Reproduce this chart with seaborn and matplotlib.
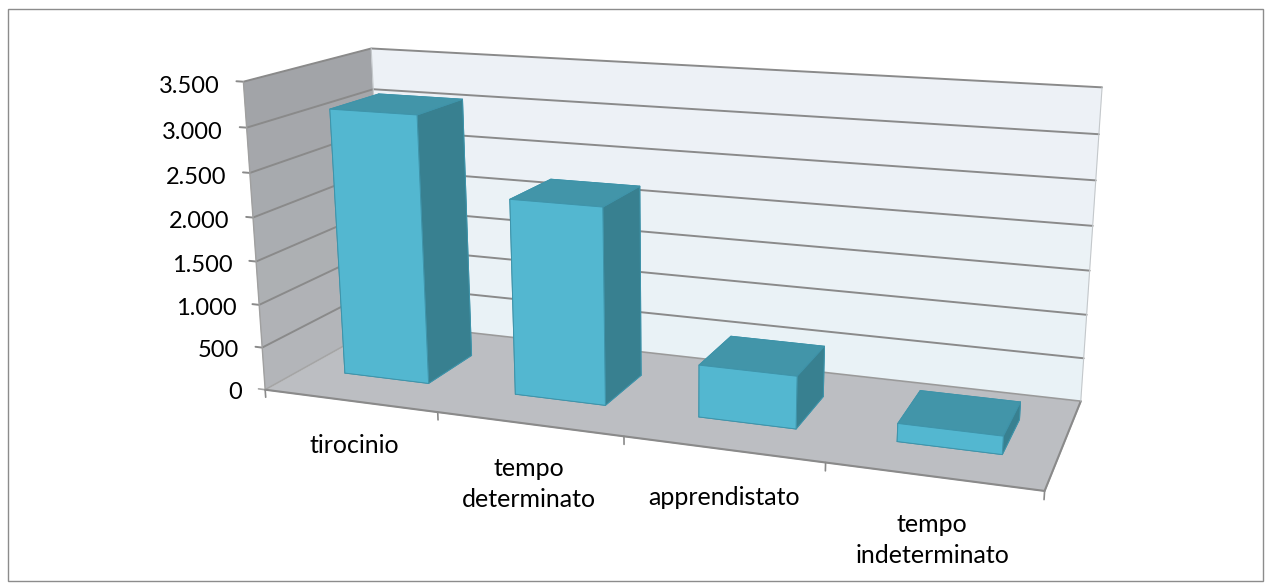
import numpy as np
import matplotlib
matplotlib.use("Agg")
import matplotlib.pyplot as plt
import seaborn as sns
from matplotlib.patches import Rectangle
from mpl_toolkits.mplot3d import proj3d
from mpl_toolkits.mplot3d.art3d import Poly3DCollection

categories = ["tirocinio", "tempo\ndeterminato", "apprendistato", "tempo\nindeterminato"]
values = [3100, 2240, 590, 200]
y_ticks = [0, 500, 1000, 1500, 2000, 2500, 3000, 3500]
y_labels = ["0", "500", "1.000", "1.500", "2.000", "2.500", "3.000", "3.500"]
label_drop = [530, 690, 530, 680]
label_shift = [0.51, 0.49, 0.51, 0.51]

sns.set_theme(style="white")
plt.rcParams["font.family"] = ["Lato", "DejaVu Sans"]

W, H = 1270, 588
fig = plt.figure(figsize=(W / 100, H / 100), dpi=100, facecolor="white")
ax = fig.add_axes([0, 0, 1, 1], projection="3d")
ax.set_axis_off()
ax.computed_zorder = False
ax.apply_aspect = lambda position=None: None
ax.viewLim.intervalx = (-1, 1)
ax.viewLim.intervaly = (-1, 1)

# Camera: calibrated from frame landmarks (x category, depth 0-1, value) -> screen
calib = [
    ((0, 0, 0), (266, 389)), ((1, 0, 0), (438, 412)), ((2, 0, 0), (624, 437)),
    ((3, 0, 0), (826, 464)), ((4, 0, 0), (1044, 490)), ((0, 1, 0), (384, 323)),
    ((4, 1, 0), (1081, 401)), ((0, 0, 3500), (244, 82)), ((0, 1, 3500), (372, 49)),
    ((4, 1, 3500), (1102, 87)), ((0, 0, 3000), (245, 127)),
]
A, b = [], []
for (X, Y, Z), (u, v) in calib:
    Z = Z / 1000
    A.append([X, Y, Z, 1, 0, 0, 0, 0, -u * X, -u * Y, -u * Z]); b.append(u)
    A.append([0, 0, 0, 0, X, Y, Z, 1, -v * X, -v * Y, -v * Z]); b.append(v)
p = np.linalg.lstsq(np.array(A, float), np.array(b, float), rcond=None)[0]
r_u = np.array([p[0], p[1], p[2] / 1000, p[3]])
r_v = np.array([p[4], p[5], p[6] / 1000, p[7]])
r_w = np.array([p[8], p[9], p[10] / 1000, 1.0])
M = np.array([
    r_u / (W / 2) - r_w,
    r_w - r_v / (H / 2),
    [-0.1, 1.0, -1e-5, -3.0],
    r_w,
])
ax.get_proj = lambda: M

xmax, ztop = 4, y_ticks[-1]
GRID = "#8a8a8a"

def quads(q, colors, z):
    ax.add_collection3d(Poly3DCollection(q, facecolors=colors, edgecolors=colors,
                                         linewidths=0.3, zorder=z))

def label(x, y, z, s, **kw):
    u, v, _ = proj3d.proj_transform(x, y, z, M)
    ax.text2D(float(u), float(v), s, transform=ax.transData, color="black", zorder=5, **kw)

# walls in bands between gridlines
n = len(y_ticks) - 1
left, back, lc, bc = [], [], [], []
for i in range(n):
    z0, z1 = y_ticks[i], y_ticks[i + 1]
    t = i / (n - 1)
    left.append([(0, 0, z0), (0, 1, z0), (0, 1, z1), (0, 0, z1)])
    back.append([(0, 1, z0), (xmax, 1, z0), (xmax, 1, z1), (0, 1, z1)])
    lc.append((0.70 - 0.065 * t, 0.71 - 0.065 * t, 0.725 - 0.065 * t))
    bc.append((0.915 + 0.015 * t, 0.95 - 0.005 * t, 0.965))
quads(left, lc, 1)
quads(back, bc, 1)
quads([[(0, 0, 0), (xmax, 0, 0), (xmax, 1, 0), (0, 1, 0)]], ["#bcbec2"], 1)

# gridlines and frame
for v in y_ticks[1:]:
    ax.plot([-0.04, 0, 0, xmax], [0, 0, 1, 1], [v, v, v, v], color=GRID, lw=1.4, zorder=2)
ax.plot([-0.04, 0, 0], [0, 0, 1], [0, 0, 0], color="#a5a5a5", lw=1.2, zorder=2)
ax.plot([0, xmax], [1, 1], [0, 0], color="#9a9a9a", lw=1.2, zorder=2)
ax.plot([0, xmax, xmax], [0, 0, 1], [0, 0, 0], color=GRID, lw=1.5, zorder=2)
ax.plot([0, 0], [0, 0], [0, ztop], color="#a0a0a0", lw=1.0, zorder=2)
ax.plot([0, 0], [1, 1], [0, ztop], color="#c4c8cb", lw=0.8, zorder=2)
ax.plot([xmax, xmax], [1, 1], [0, ztop], color="#c4c8cb", lw=0.8, zorder=2)
for i in range(len(categories) + 1):
    ax.plot([i, i], [0, 0], [0, -90], color=GRID, lw=1.2, zorder=2)

# bars
n_b = len(values)
xs = np.arange(n_b) + 0.25
face = ["#388090", "#4295a9", "#53b7d0", "#388090", "#388090", "#388090"] * n_b
ax.bar3d(xs, np.full(n_b, 0.3), np.zeros(n_b), 0.5, 0.4, values, color=face,
         shade=False, edgecolor="#3f94aa", linewidth=0.7, zorder=3)

# text
for v, s in zip(y_ticks, y_labels):
    label(-0.14, 0, v - 70, s, ha="right", va="center", fontsize=17)
for i, (s, d) in enumerate(zip(categories, label_drop)):
    label(i + label_shift[i], 0, -d, s, ha="center", va="center", fontsize=18, linespacing=1.42)

fig.add_artist(Rectangle((7.5 / W, 1 - 580.5 / H), 1255 / W, 572 / H, transform=fig.transFigure,
                         fill=False, edgecolor="#8c8c8c", linewidth=1.0))
fig.savefig("out.png", dpi=100, facecolor="white")
